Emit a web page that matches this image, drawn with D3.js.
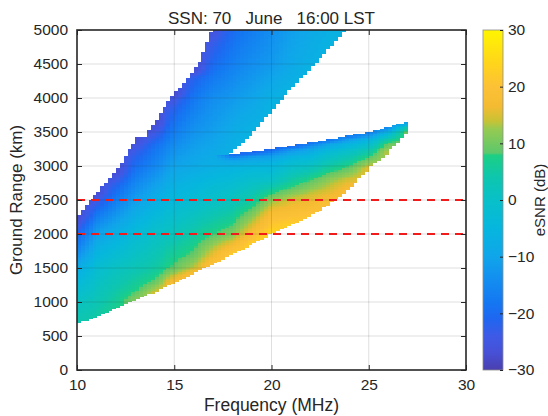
<!DOCTYPE html>
<html>
<head>
<meta charset="utf-8">
<script src="https://cdn.jsdelivr.net/npm/d3@7"></script>
<style>
  body { margin: 0; background: #fff; }
  text { font-family: "Liberation Sans", Arial, Helvetica, sans-serif; fill: #262626; }
</style>
</head>
<body>
<div id="chart"></div>
<script>
// ---- data ----
const titleText = "SSN: 70   June   16:00 LST";
const freqTicks = [10, 15, 20, 25, 30];
const rangeTicks = [0, 500, 1000, 1500, 2000, 2500, 3000, 3500, 4000, 4500, 5000];
const snrTicks = [-30, -20, -10, 0, 10, 20, 30];
const refLines = [2000, 2500];

// skip distance (lower edge of coverage), km
const skipFreq  = [10, 11, 12, 13, 14, 15, 16, 17, 18, 19, 20, 21, 22, 23, 24, 25, 26, 27];
const skipRange = [690, 780, 900, 1045, 1145, 1290, 1425, 1560, 1710, 1855, 2005, 2130, 2275, 2450, 2670, 2965, 3210, 3500];

// upper-left edge of coverage
const topFreq  = [10, 10.5, 11, 12, 12.5, 13.08, 13.6, 13.65, 14, 14.8, 15, 16, 16.25, 16.6, 16.95];
const topRange = [2250, 2420, 2600, 2920, 3150, 3420, 3440, 3500, 3640, 4000, 4060, 4400, 4500, 4750, 5000];

// lower edge of the upper band (right of the gap)
const gapFreq  = [17.87, 18, 19, 20, 21, 22, 23, 23.8];
const gapRange = [3180, 3220, 3480, 3820, 4150, 4440, 4750, 5000];

// upper edge of the lower band
const bandFreq  = [17.87, 18, 19, 20, 21, 22, 23, 24, 25, 26, 27];
const bandRange = [3165, 3175, 3215, 3255, 3300, 3345, 3395, 3450, 3495, 3575, 3660];

const apexFreq = 17.87;
const maxFreq = 27.0;

// eSNR (dB) profiles per frequency column: ranges and values
const colFreq = [10, 11, 12, 13, 14, 15, 16, 17, 18, 19, 20, 21, 22, 23, 24, 25, 26, 27];
const colRange = [
  [690, 1000, 1300, 1500, 1750, 2000, 2250],
  [780, 1000, 1500, 1800, 2100, 2350, 2600],
  [900, 1000, 1500, 2000, 2500, 2700, 2920],
  [1045, 1200, 1500, 2000, 2500, 2900, 3150, 3420],
  [1145, 1300, 1500, 2000, 2500, 3000, 3300, 3450, 3640],
  [1290, 1400, 1500, 1800, 2000, 2500, 3000, 3500, 3800, 4000, 4060],
  [1425, 1500, 1700, 2000, 2500, 3000, 3500, 4000, 4300, 4420],
  [1560, 1700, 1900, 2000, 2500, 3000, 3500, 4000, 4500, 4800, 5000],
  [1710, 1850, 2000, 2200, 2500, 2800, 3000, 3100, 3175],
  [1855, 2000, 2200, 2500, 2800, 3000, 3130, 3215],
  [2005, 2100, 2300, 2500, 2650, 2800, 3050, 3180, 3255],
  [2130, 2300, 2500, 2700, 2900, 3100, 3230, 3300],
  [2275, 2400, 2600, 2800, 3000, 3200, 3290, 3345],
  [2450, 2600, 2800, 3000, 3200, 3330, 3395],
  [2670, 2800, 3000, 3200, 3350, 3450],
  [2965, 3100, 3250, 3400, 3495],
  [3210, 3350, 3450, 3575],
  [3500, 3560, 3610, 3660]
];
const colSnr = [
  [4, 1, -4, -8, -15, -21, -28],
  [5, 3, -2, -7, -13, -20, -28],
  [7, 6, 1, -7, -17, -21, -28],
  [11, 7, 3, -3, -11, -18, -22, -28],
  [15, 9, 5, 0, -7, -15, -19, -23, -28],
  [19, 14, 9, 5, 2, -4, -10, -17, -21, -25, -28],
  [19, 14, 9, 5, -2, -8.5, -13, -18, -22, -28],
  [20, 16, 11, 8, 0, -7, -11, -14, -20, -23, -26],
  [22, 17, 11, 7, 2, -3, -6, -11, -22],
  [23, 18, 13, 5, -1, -5, -11, -22],
  [25, 22, 18, 12, 6, 0, -6, -13, -22],
  [23, 19, 15, 8, 2, -4, -12, -21],
  [21, 18, 14, 8, 1, -7, -13, -20],
  [19, 16, 12, 5, -2, -10, -19],
  [18, 15, 8, 1, -7, -18],
  [16, 10, 3, -6, -17],
  [14, 8, -1, -16],
  [11, 6, -4, -15]
];

// eSNR profiles in the upper band
const upperFreq = [17, 18, 19, 20, 21, 22, 23, 24];
const upperRange = [
  [3000, 3500, 4000, 4500, 4800, 5000],
  [3220, 3500, 4000, 4500, 5000],
  [3480, 4000, 4500, 5000],
  [3820, 4000, 4500, 5000],
  [4150, 4500, 5000],
  [4440, 4500, 5000],
  [4750, 5000],
  [4999, 5000]
];
const upperSnr = [
  [-7, -11, -14, -20, -23, -26],
  [-7, -8, -12, -16.5, -20],
  [-6, -10, -14, -17],
  [-6, -7, -12, -14],
  [-6, -9, -11],
  [-6, -7, -9],
  [-6, -7],
  [-6, -6]
];

// colormap (parula as it appears in the picture)
const cmapValues = [-30, -27, -24, -21, -18, -14, -10, -5, 0, 4, 7.9, 8.3, 12.5, 14, 16.5, 20, 24, 30];
const cmapColors = ["#4a3fae", "#4750d6", "#3e5ae6", "#1f66f0", "#1478f2", "#138ef0", "#10a5ea", "#06b6de",
                    "#08c0c8", "#0ec6ae", "#1ccf84", "#5cc86c", "#96ca52", "#c9c234", "#f4bb32", "#fcc136",
                    "#ffd41c", "#fff500"];

// ---- drawing ----
const width = 548, height = 416;
const plot = {left: 77, right: 466, top: 30, bottom: 370};
const cbar = {left: 483, right: 503};

const x = d3.scaleLinear().domain([10, 30]).range([plot.left, plot.right]);
const y = d3.scaleLinear().domain([0, 5000]).range([plot.bottom, plot.top]);
const color = d3.scaleLinear().domain(cmapValues).range(cmapColors).clamp(true);

const skipEdge = d3.scaleLinear().domain(skipFreq).range(skipRange).clamp(true);
const leftEdge = d3.scaleLinear().domain(topFreq).range(topRange).clamp(true);
const gapEdge = d3.scaleLinear().domain(gapFreq).range(gapRange).clamp(true);
const bandTop = d3.scaleLinear().domain(bandFreq).range(bandRange).clamp(true);

const colProf = colRange.map((r, i) => d3.scaleLinear().domain(r).range(colSnr[i]).clamp(true));
const upperProf = upperRange.map((r, i) => d3.scaleLinear().domain(r).range(upperSnr[i]).clamp(true));

function blend(fs, profs, f, r) {
    const i = Math.max(0, Math.min(fs.length - 2, d3.bisectRight(fs, f) - 1));
    const w = Math.max(0, Math.min(1, (f - fs[i]) / (fs[i + 1] - fs[i])));
    return (1 - w) * profs[i](r) + w * profs[i + 1](r);
}

function esnrAt(f, r) {
    if (f > maxFreq || r < skipEdge(f)) return null;
    if (f < apexFreq) {
        if (r > leftEdge(f)) return null;
        if (f >= upperFreq[0] && r > bandRange[0]) return blend(upperFreq, upperProf, f, r);
        return blend(colFreq, colProf, f, r);
    }
    if (r <= bandTop(f)) return blend(colFreq, colProf, f, r);
    if (r >= gapEdge(f)) return blend(upperFreq, upperProf, f, r);
    return null;
}

const df = 0.2, dr = 25;
const cells = [];
for (let i = 0; i < 100; i++) {
    const f0 = 10 + i * df;
    for (let j = 0; j < 5000 / dr; j++) {
        const r0 = j * dr;
        const v = esnrAt(f0 + df / 2, r0 + dr / 2);
        if (v !== null) cells.push({f0: f0, r0: r0, v: v});
    }
}

const svg = d3.select("#chart").append("svg")
    .attr("width", width)
    .attr("height", height);

svg.append("rect").attr("width", width).attr("height", height).attr("fill", "#fff");

// heat map cells
svg.append("g")
    .attr("shape-rendering", "crispEdges")
    .selectAll("rect")
    .data(cells)
    .join("rect")
    .attr("x", d => x(d.f0))
    .attr("y", d => y(d.r0 + dr))
    .attr("width", d => x(d.f0 + df) - x(d.f0) + 0.4)
    .attr("height", d => y(d.r0) - y(d.r0 + dr) + 0.4)
    .attr("fill", d => color(d.v));

// grid
const grid = svg.append("g").attr("stroke", "#262626").attr("stroke-opacity", 0.15).attr("stroke-width", 1);
grid.selectAll(".gx").data(freqTicks.slice(1, -1)).join("line")
    .attr("x1", d => x(d)).attr("x2", d => x(d))
    .attr("y1", plot.top).attr("y2", plot.bottom);
grid.selectAll(".gy").data(rangeTicks.slice(1, -1)).join("line")
    .attr("x1", plot.left).attr("x2", plot.right)
    .attr("y1", d => y(d)).attr("y2", d => y(d));

// red dashed reference lines
svg.append("g").selectAll("line").data(refLines).join("line")
    .attr("x1", plot.left).attr("x2", plot.right)
    .attr("y1", d => y(d)).attr("y2", d => y(d))
    .attr("stroke", "#f21b1b")
    .attr("stroke-width", 2)
    .attr("stroke-dasharray", "8,6");

// axes
const fmt = d3.format("d");
function styleAxis(g) {
    g.select(".domain").remove();
    g.selectAll(".tick line").attr("stroke", "#262626").attr("stroke-width", 1);
    g.selectAll(".tick text").attr("font-size", 15.5).attr("fill", "#262626")
        .style("font-family", '"Liberation Sans", Arial, sans-serif');
}
svg.append("g").attr("transform", `translate(0,${plot.bottom})`)
    .call(d3.axisBottom(x).tickValues(freqTicks).tickFormat(fmt).tickSizeInner(-5).tickSizeOuter(0).tickPadding(9))
    .call(styleAxis);
svg.append("g").attr("transform", `translate(0,${plot.top})`)
    .call(d3.axisTop(x).tickValues(freqTicks).tickSizeInner(-5).tickSizeOuter(0).tickFormat(""))
    .call(styleAxis);
svg.append("g").attr("transform", `translate(${plot.left},0)`)
    .call(d3.axisLeft(y).tickValues(rangeTicks).tickFormat(fmt).tickSizeInner(-5).tickSizeOuter(0).tickPadding(9))
    .call(styleAxis);
svg.append("g").attr("transform", `translate(${plot.right},0)`)
    .call(d3.axisRight(y).tickValues(rangeTicks).tickSizeInner(-5).tickSizeOuter(0).tickFormat(""))
    .call(styleAxis);

svg.append("rect")
    .attr("x", plot.left).attr("y", plot.top)
    .attr("width", plot.right - plot.left).attr("height", plot.bottom - plot.top)
    .attr("fill", "none").attr("stroke", "#262626").attr("stroke-width", 1.6);

// labels
svg.append("text")
    .attr("x", (plot.left + plot.right) / 2).attr("y", 24)
    .attr("text-anchor", "middle").attr("font-size", 17)
    .style("white-space", "pre")
    .text(titleText);
svg.append("text")
    .attr("x", (plot.left + plot.right) / 2).attr("y", 411)
    .attr("text-anchor", "middle").attr("font-size", 17.5)
    .text("Frequency (MHz)");
svg.append("text")
    .attr("transform", `translate(22,${(plot.top + plot.bottom) / 2}) rotate(-90)`)
    .attr("text-anchor", "middle").attr("font-size", 17)
    .text("Ground Range (km)");

// colorbar
const cy = d3.scaleLinear().domain([-30, 30]).range([plot.bottom, plot.top]);
const grad = svg.append("defs").append("linearGradient")
    .attr("id", "cbgrad").attr("x1", 0).attr("y1", 1).attr("x2", 0).attr("y2", 0);
grad.selectAll("stop").data(cmapValues).join("stop")
    .attr("offset", d => (d + 30) / 60)
    .attr("stop-color", d => color(d));
svg.append("rect")
    .attr("x", cbar.left).attr("y", plot.top)
    .attr("width", cbar.right - cbar.left).attr("height", plot.bottom - plot.top)
    .attr("fill", "url(#cbgrad)")
    .attr("stroke", "#8c8c8c").attr("stroke-width", 0.8);
svg.append("g").attr("transform", `translate(${cbar.right},0)`)
    .call(d3.axisRight(cy).tickValues(snrTicks).tickFormat(fmt).tickSizeInner(-3).tickSizeOuter(0).tickPadding(5))
    .call(styleAxis);
svg.append("text")
    .attr("transform", `translate(545,${(plot.top + plot.bottom) / 2}) rotate(-90)`)
    .attr("text-anchor", "middle").attr("font-size", 15)
    .text("eSNR (dB)");
</script>
</body>
</html>
